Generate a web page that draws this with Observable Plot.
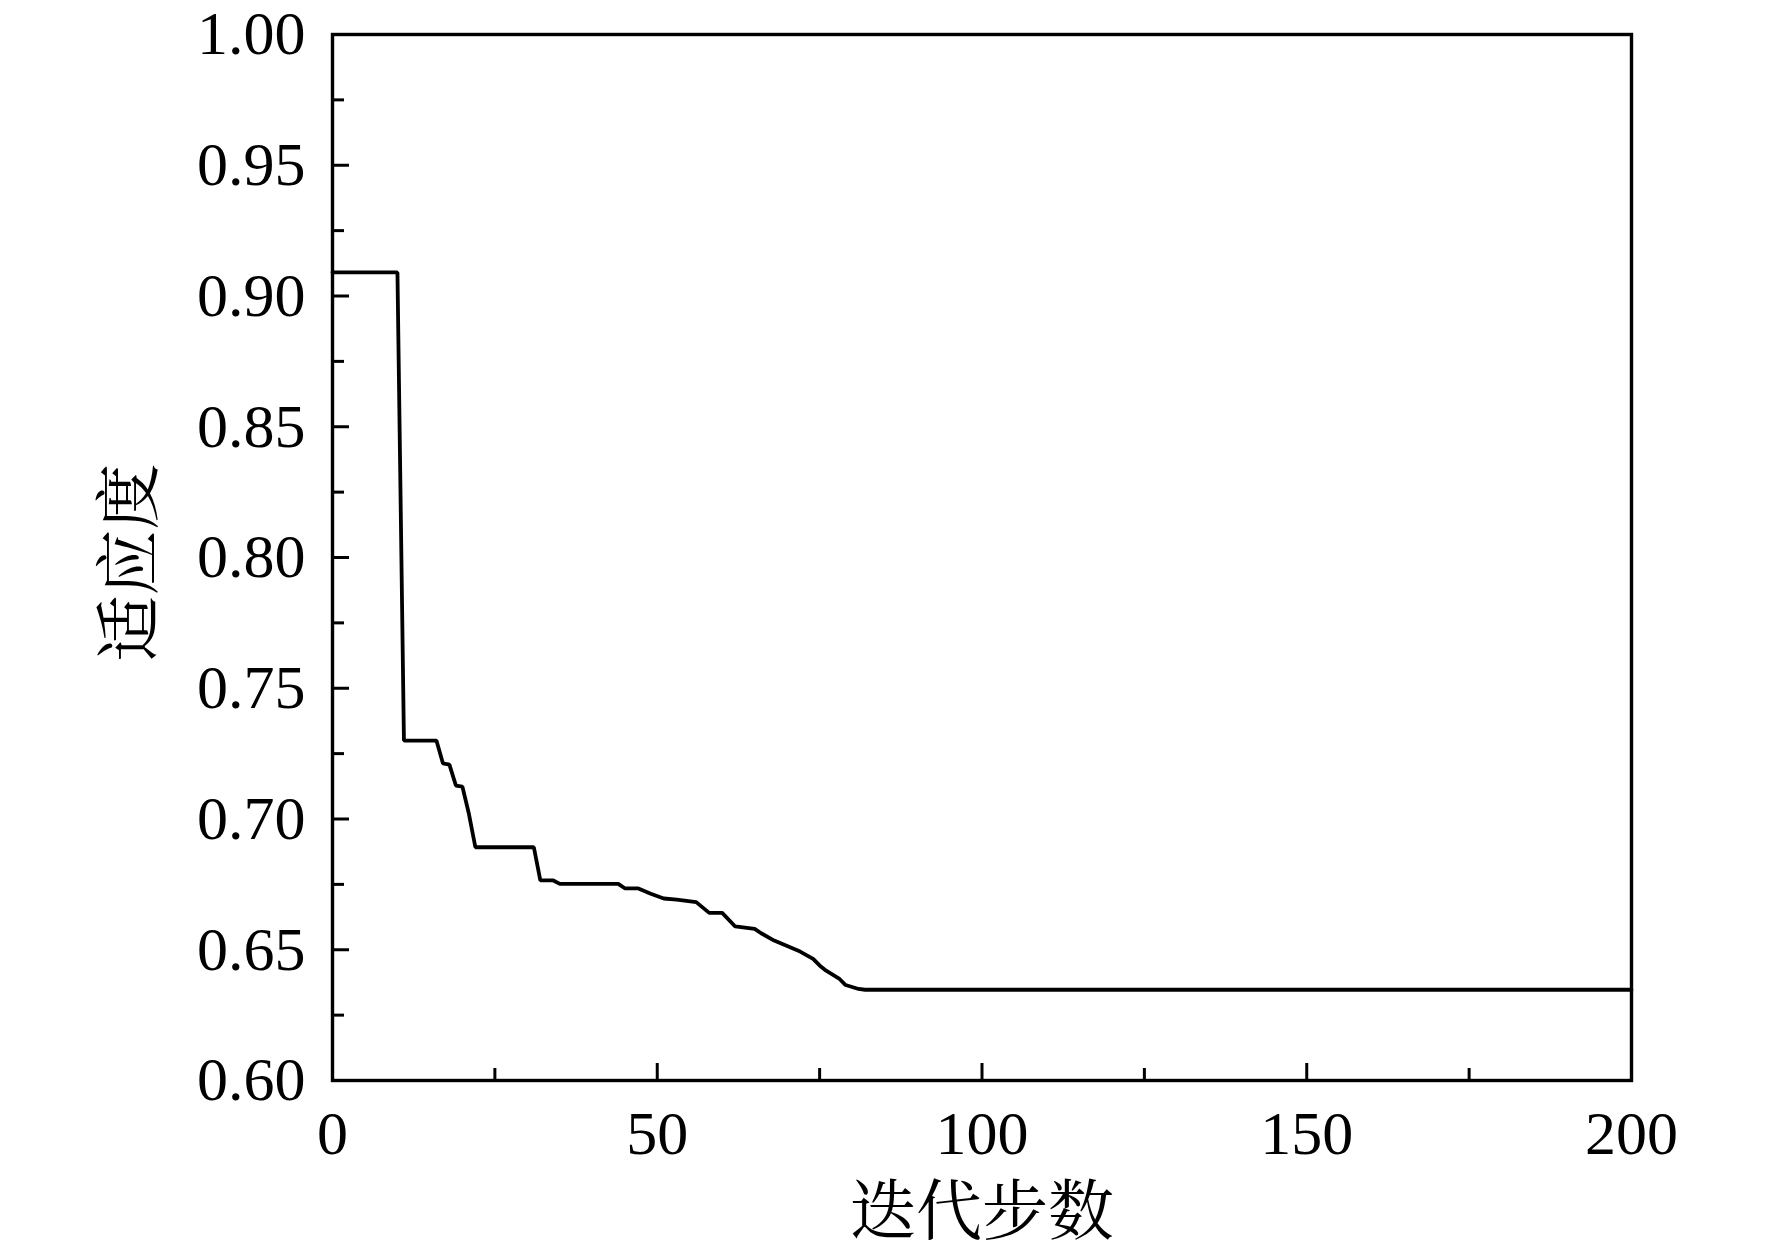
<!DOCTYPE html>
<html>
<head>
<meta charset="utf-8">
<script src="https://cdn.jsdelivr.net/npm/d3@7"></script>
<script src="https://cdn.jsdelivr.net/npm/@observablehq/plot@0.6"></script>
<style>
  html, body { margin: 0; padding: 0; background: #fff; }
  #chart svg { display: block; }
</style>
</head>
<body>
<div id="chart"></div>
<script>
// Iteration steps (breakpoints of the best-fitness curve)
const steps = [0, 10, 11, 16, 17, 18, 19, 20, 21, 22, 31, 32, 34, 35, 44, 45, 47, 49, 51, 53, 56, 58, 60, 62, 65, 66, 68, 70, 72, 74, 75, 76, 78, 79, 81, 82, 200];
// Fitness values at those steps
const fitness = [0.909, 0.909, 0.730, 0.730, 0.7213, 0.7208, 0.7128, 0.7124, 0.702, 0.6892, 0.6892, 0.6765, 0.6765, 0.6752, 0.6752, 0.6735, 0.6735, 0.6714, 0.6696, 0.6692, 0.6682, 0.6641, 0.6641, 0.6589, 0.6580, 0.6563, 0.6535, 0.6514, 0.6493, 0.6465, 0.6440, 0.6420, 0.6390, 0.6365, 0.6350, 0.6347, 0.6347];

const xMajor = [0, 50, 100, 150, 200];
const xMinor = [25, 75, 125, 175];
const yMajor = [0.60, 0.65, 0.70, 0.75, 0.80, 0.85, 0.90, 0.95, 1.00];
const yMinor = [0.625, 0.675, 0.725, 0.775, 0.825, 0.875, 0.925, 0.975];
const xTitle = "迭代步数";
const yTitle = "适应度";

const data = steps.map((s, i) => ({step: s, fit: fitness[i]}));

const W = 1772, H = 1258;
const mL = 332, mR = 141, mT = 34, mB = 178;
const pw = W - mL - mR, ph = H - mT - mB;
const FONT = "'Liberation Serif', 'Times New Roman', 'Noto Serif CJK SC', 'Noto Sans CJK SC', serif";

const chart = Plot.plot({
  width: W,
  height: H,
  marginLeft: mL,
  marginRight: mR,
  marginTop: mT,
  marginBottom: mB,
  style: {fontFamily: FONT, background: "#fff", color: "#000"},
  x: {domain: [0, 200]},
  y: {domain: [0.6, 1.0]},
  marks: [
    Plot.line(data, {x: "step", y: "fit", stroke: "#000", strokeWidth: 3.8, strokeLinejoin: "miter"}),
    Plot.tickX(xMajor, {x: d => d, insetTop: ph - 17, stroke: "#000", strokeWidth: 3}),
    Plot.tickX(xMinor, {x: d => d, insetTop: ph - 12, stroke: "#000", strokeWidth: 3}),
    Plot.tickY(yMajor, {y: d => d, insetRight: pw - 17, stroke: "#000", strokeWidth: 3}),
    Plot.tickY(yMinor, {y: d => d, insetRight: pw - 12, stroke: "#000", strokeWidth: 3}),
    Plot.frame({stroke: "#000", strokeWidth: 3.4}),
    Plot.axisX(xMajor, {tickSize: 0, tickPadding: 29, fontSize: 62, label: null, fill: "#000"}),
    Plot.axisY(yMajor, {tickSize: 0, tickPadding: 27, fontSize: 62, label: null, tickFormat: d3.format(".2f"), fill: "#000"}),
    Plot.text([xTitle], {frameAnchor: "bottom", dy: 132, fontSize: 66, lineAnchor: "middle", textAnchor: "middle", fill: "#000"}),
    Plot.text([yTitle], {frameAnchor: "left", dx: -202, dy: 5, rotate: -90, fontSize: 66, lineAnchor: "middle", textAnchor: "middle", fill: "#000"})
  ]
});
document.getElementById("chart").appendChild(chart);
</script>
</body>
</html>
